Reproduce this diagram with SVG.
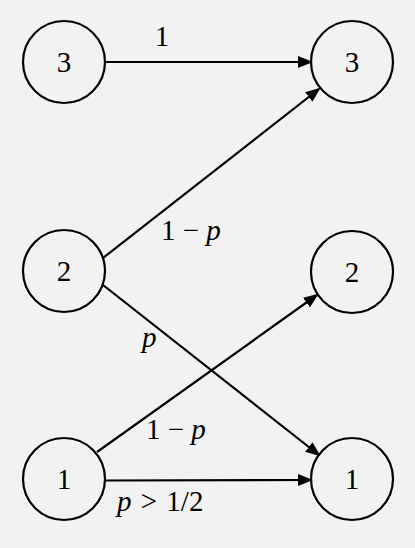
<svg xmlns="http://www.w3.org/2000/svg" width="415" height="548" viewBox="0 0 415 548">
<defs>
<style>
.node{fill:none;stroke:#000;stroke-width:2.2}
.lbl{font-family:"Liberation Serif","Times New Roman",serif;font-size:29px;fill:#000;text-anchor:middle}
.el{font-family:"Liberation Serif","Times New Roman",serif;font-size:29px;fill:#000}
.i{font-style:italic}
.edge{stroke:#000;stroke-width:2.2;fill:none;marker-end:url(#arr)}
</style>
<marker id="arr" markerUnits="userSpaceOnUse" markerWidth="18" markerHeight="14" refX="13" refY="6" orient="auto">
<path d="M0,0 L15,6 L0,12 z" fill="#000"/>
</marker>
</defs>
<rect width="415" height="548" fill="#f2f2f2"/>
<g id="edges">
<line class="edge" x1="105" y1="62" x2="311" y2="62"/>
<line class="edge" x1="103" y1="258" x2="319" y2="89"/>
<line class="edge" x1="103" y1="285" x2="319" y2="455"/>
<line class="edge" x1="97" y1="452" x2="317" y2="295"/>
<line class="edge" x1="105" y1="480.5" x2="311" y2="480"/>
</g>
<g id="edge-labels">
<text class="el" x="162" y="46" text-anchor="middle">1</text>
<text class="el" x="161" y="240">1 − <tspan class="i">p</tspan></text>
<text class="el i" x="142" y="347">p</text>
<text class="el" x="146" y="439">1 − <tspan class="i">p</tspan></text>
<text class="el" x="117" y="511"><tspan class="i">p</tspan> <tspan dx="2">&gt;</tspan> <tspan dx="2">1/2</tspan></text>
</g>
<g id="L3"><circle class="node" cx="64" cy="62" r="41"/><text class="lbl" x="64" y="72">3</text></g>
<g id="R3"><circle class="node" cx="352" cy="62" r="41"/><text class="lbl" x="352" y="72">3</text></g>
<g id="L2"><circle class="node" cx="64" cy="271" r="41"/><text class="lbl" x="64" y="281">2</text></g>
<g id="R2"><circle class="node" cx="352" cy="272" r="41"/><text class="lbl" x="352" y="282">2</text></g>
<g id="L1"><circle class="node" cx="64" cy="479" r="41"/><text class="lbl" x="64" y="489">1</text></g>
<g id="R1"><circle class="node" cx="352" cy="479" r="41"/><text class="lbl" x="352" y="489">1</text></g>
</svg>
